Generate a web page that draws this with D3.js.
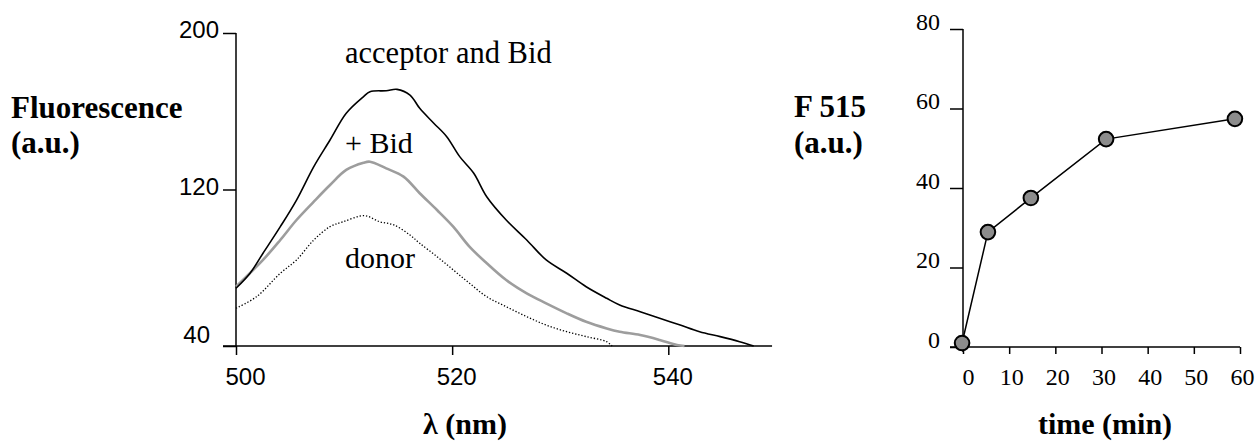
<!DOCTYPE html>
<meta charset="utf-8">
<style>
  body { margin: 0; background: #fff; }
  svg { display: block; }
  .serif { font-family: "Liberation Serif", "Times New Roman", serif; }
  .axis path.domain { display: none; }
  .axis line { stroke: #000; stroke-width: 1.5px; }
</style>
<body>
<script src="https://cdn.jsdelivr.net/npm/d3@7"></script>
<script>
  'use strict';

  // spectra: [wavelength nm, fluorescence a.u.]
  const acceptorBid = [
    [500, 69.5], [501.3, 77.2], [502.5, 87.4], [504.1, 101.0], [505.6, 114.6],
    [507.2, 131.7], [508.7, 145.3], [510.2, 159.0], [511.8, 167.5], [512.4, 170.0],
    [513.9, 170.5], [514.9, 171.2], [516.1, 168.3], [517.0, 161.5], [518.3, 153.9],
    [519.5, 147.0], [520.7, 136.8], [522.0, 128.3], [523.2, 116.3], [525.0, 104.4],
    [526.9, 94.2], [528.7, 84.0], [530.6, 77.2], [532.4, 70.3], [534.3, 64.4],
    [535.5, 61.0], [537.4, 57.5], [539.2, 54.2], [541.1, 50.7], [542.9, 47.3],
    [544.8, 44.8], [546.6, 42.2], [547.9, 40]
  ];
  const plusBid = [
    [500, 70.3], [502.5, 84.0], [504.1, 94.2], [505.6, 104.4], [507.2, 113.8],
    [508.7, 122.3], [510.2, 130.0], [511.8, 133.7], [512.4, 134.2], [513.9, 130.8],
    [515.5, 126.6], [517.0, 118.1], [518.6, 109.5], [520.1, 101.0], [521.6, 90.8],
    [523.2, 82.3], [525.0, 73.7], [526.9, 66.9], [528.7, 61.8], [530.6, 56.7],
    [532.4, 52.4], [534.3, 49.0], [535.5, 47.3], [537.4, 45.6], [539.2, 43.1],
    [540.8, 40.5], [541.5, 40]
  ];
  const donor = [
    [500, 59.3], [501.9, 65.2], [504.1, 77.2], [505.6, 84.0], [507.2, 94.2],
    [508.7, 101.0], [509.9, 103.5], [511.9, 106.6], [513.3, 103.5], [514.6, 101.9],
    [516.1, 96.7], [517.0, 92.5], [518.6, 85.7], [520.1, 78.9], [521.6, 72.1],
    [523.2, 65.2], [525.0, 60.1], [526.9, 55.0], [528.7, 50.7], [530.6, 47.3],
    [532.4, 44.8], [534.3, 42.2], [534.8, 40]
  ];
  const spectrumXTicks = [500, 520, 540];
  const spectrumYTicks = [40, 120, 200];

  // time course of F515
  const times = [-0.2, 5.4, 14.7, 31.0, 58.9];
  const f515 = [1.0, 28.9, 37.5, 52.3, 57.4];
  const timeTicks = [0, 10, 20, 30, 40, 50, 60];
  const f515Ticks = [0, 20, 40, 60, 80];

  const SANS = '"Liberation Sans", Arial, sans-serif',
        SERIF = '"Liberation Serif", "Times New Roman", serif';

  const svg = d3.select("body").append("svg")
      .attr("width", 1256)
      .attr("height", 442);

  // ---- left panel: emission spectra ----
  const x = d3.scaleLinear().domain([500, 540]).range([236, 668.3]);
  const y = d3.scaleLinear().domain([40, 200]).range([346, 33]);

  const yAxisL = svg.append("g")
      .attr("class", "axis")
      .attr("transform", `translate(${x(500)},0)`)
      .call(d3.axisLeft(y).tickValues(spectrumYTicks).tickSize(13).tickPadding(4));
  yAxisL.selectAll("text")
      .style("font-family", SANS).style("font-size", "24px").attr("fill", "#000")
      .attr("dy", (d) => d === 40 ? "-0.15em" : "0.2em")
      .attr("x", (d) => d === 40 ? -26 : -17);

  const xAxisL = svg.append("g")
      .attr("class", "axis")
      .attr("transform", `translate(0,${y(40)})`)
      .call(d3.axisBottom(x).tickValues(spectrumXTicks).tickSize(9).tickPadding(13));
  xAxisL.selectAll("text")
      .style("font-family", SANS).style("font-size", "24px").attr("fill", "#000")
      .attr("x", (d) => d === 500 ? 9 : 4);

  svg.append("line")
      .attr("x1", x(500) - 13).attr("x2", x(549.6))
      .attr("y1", y(40)).attr("y2", y(40))
      .attr("stroke", "#000").attr("stroke-width", 1.5);
  svg.append("line")
      .attr("x1", x(500)).attr("x2", x(500))
      .attr("y1", y(200)).attr("y2", y(40))
      .attr("stroke", "#000").attr("stroke-width", 1.5);

  const line = d3.line()
      .x((d) => x(d[0]))
      .y((d) => y(d[1]))
      .curve(d3.curveCatmullRom);

  svg.append("path").datum(donor)
      .attr("d", line).attr("fill", "none")
      .attr("stroke", "#000").attr("stroke-width", 1.3)
      .attr("stroke-dasharray", "1.3,1.9");
  svg.append("path").datum(plusBid)
      .attr("d", line).attr("fill", "none")
      .attr("stroke", "#9d9d9d").attr("stroke-width", 2.6);
  svg.append("path").datum(acceptorBid)
      .attr("d", line).attr("fill", "none")
      .attr("stroke", "#000").attr("stroke-width", 1.6);

  svg.append("text").attr("class", "serif")
      .attr("x", 345).attr("y", 63).attr("font-size", 30.5)
      .text("acceptor and Bid");
  svg.append("text").attr("class", "serif")
      .attr("x", 345).attr("y", 153).attr("font-size", 30)
      .text("+ Bid");
  svg.append("text").attr("class", "serif")
      .attr("x", 345).attr("y", 268).attr("font-size", 30)
      .text("donor");

  svg.append("text").attr("class", "serif")
      .attr("x", 11).attr("y", 118).attr("font-size", 31).attr("font-weight", "bold")
      .text("Fluorescence");
  svg.append("text").attr("class", "serif")
      .attr("x", 11).attr("y", 153).attr("font-size", 31).attr("font-weight", "bold")
      .text("(a.u.)");

  svg.append("text").attr("class", "serif")
      .attr("x", 423).attr("y", 434).attr("font-size", 30).attr("font-weight", "bold")
      .text("λ (nm)");

  // ---- right panel: F515 over time ----
  const tx = d3.scaleLinear().domain([0, 60]).range([963, 1240]);
  const ty = d3.scaleLinear().domain([0, 80]).range([347, 29]);

  const yAxisR = svg.append("g")
      .attr("class", "axis")
      .attr("transform", `translate(${tx(0)},0)`)
      .call(d3.axisLeft(ty).tickValues(f515Ticks).tickSize(13).tickPadding(10));
  yAxisR.selectAll("text")
      .style("font-family", SERIF).style("font-size", "24px").attr("fill", "#000")
      .attr("dy", "0.02em");

  const xAxisR = svg.append("g")
      .attr("class", "axis")
      .attr("transform", `translate(0,${ty(0)})`)
      .call(d3.axisBottom(tx).tickValues(timeTicks).tickSize(7).tickPadding(14));
  xAxisR.selectAll("text")
      .style("font-family", SERIF).style("font-size", "24px").attr("fill", "#000")
      .attr("x", (d) => d === 0 ? 5 : 2);

  svg.append("line")
      .attr("x1", tx(0) - 13).attr("x2", tx(60))
      .attr("y1", ty(0)).attr("y2", ty(0))
      .attr("stroke", "#000").attr("stroke-width", 1.5);
  svg.append("line")
      .attr("x1", tx(0)).attr("x2", tx(0))
      .attr("y1", ty(80)).attr("y2", ty(0) + 5)
      .attr("stroke", "#000").attr("stroke-width", 1.5);

  const pts = times.map((t, i) => [t, f515[i]]);
  svg.append("path").datum(pts)
      .attr("d", d3.line().x((d) => tx(d[0])).y((d) => ty(d[1])))
      .attr("fill", "none").attr("stroke", "#000").attr("stroke-width", 1.5);
  svg.selectAll("circle.pt").data(pts).enter().append("circle")
      .attr("class", "pt")
      .attr("cx", (d) => tx(d[0])).attr("cy", (d) => ty(d[1]))
      .attr("r", 7.3)
      .attr("fill", "#8c8c8c").attr("stroke", "#000").attr("stroke-width", 2);

  svg.append("text").attr("class", "serif")
      .attr("x", 794).attr("y", 117).attr("font-size", 31).attr("font-weight", "bold")
      .text("F 515");
  svg.append("text").attr("class", "serif")
      .attr("x", 794).attr("y", 153).attr("font-size", 31).attr("font-weight", "bold")
      .text("(a.u.)");
  svg.append("text").attr("class", "serif")
      .attr("x", 1105).attr("y", 434).attr("font-size", 30).attr("font-weight", "bold")
      .attr("text-anchor", "middle")
      .text("time (min)");
</script>
</body>
